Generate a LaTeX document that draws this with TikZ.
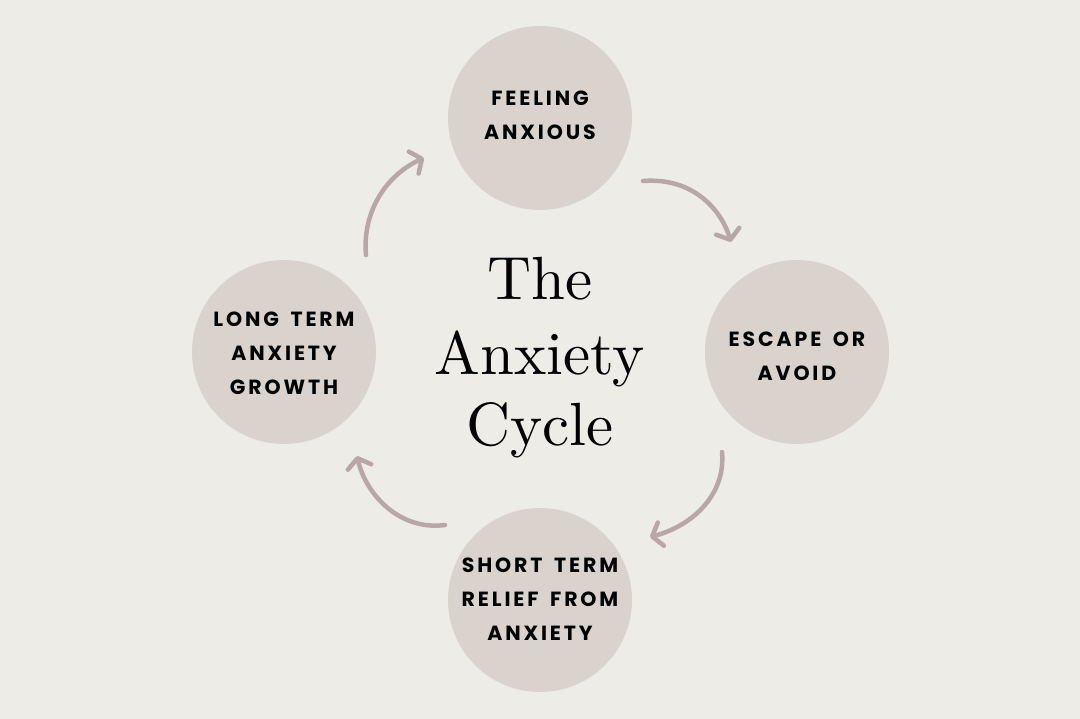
\documentclass[tikz,border=0pt]{standalone}
\usepackage{fontspec}
\newfontfamily\lblfont[LetterSpace=14,WordSpace=1.6]{Poppins}
\newfontfamily\ttlfont{lmroman10-regular.otf}
\usetikzlibrary{arrows.meta}
\definecolor{bg}{HTML}{EEECE7}
\definecolor{circ}{HTML}{DAD2CD}
\definecolor{arr}{HTML}{B8A6A8}
\tikzset{
  stage/.style={circle, fill=circ, minimum size=184pt, inner sep=0pt},
  lbl/.style={inner sep=0pt, align=center,
    font=\lblfont\bfseries\fontsize{20.5}{34}\selectfont, text=black},
  ttl/.style={anchor=base, inner sep=0pt, font=\ttlfont\fontsize{61}{73}\selectfont, text=black},
  flow/.style={draw=arr, line width=4.5pt, line cap=round,
    -{Straight Barb[length=9pt,width=24pt,line width=4.5pt,round]}},
}
\begin{document}
\begin{tikzpicture}[x=1pt,y=-1pt]
\fill[bg] (0,0) rectangle (1080,719);
\useasboundingbox (0,0) rectangle (1080,719);
\node[stage] (top) at (540,118) {};
\node[stage] (right) at (797,352) {};
\node[stage] (bottom) at (540,600) {};
\node[stage] (left) at (284,352) {};
\node[lbl] (topl) at ([yshift=3pt]top.center) {FEELING\\ANXIOUS};
\node[lbl] (rightl) at ([yshift=-4pt]right.center) {ESCAPE OR\\AVOID};
\node[lbl] (bottoml) at ([yshift=1pt]bottom.center) {SHORT TERM\\RELIEF FROM\\ANXIETY};
\node[lbl] (leftl) at ([yshift=-1pt]left.center) {LONG TERM\\ANXIETY\\GROWTH};
\node[ttl] (t1) at (540,300) {The};
\node[ttl] (t2) at (540,375) {Anxiety};
\node[ttl] (t3) at (540,446) {Cycle};
\coordinate (a1s) at (643,181);
\coordinate (a1e) at (731,242);
\coordinate (a2s) at (722,452);
\coordinate (a2e) at (650,537);
\coordinate (a3s) at (445,525);
\coordinate (a3e) at (357,456);
\coordinate (a4s) at (366,255);
\coordinate (a4e) at (424,158);
\draw[flow] (a1s) .. controls (695,177) and (722,212) .. (a1e);
\draw[flow] (a2s) .. controls (726,495) and (692,526) .. (a2e);
\draw[flow] (a3s) .. controls (400,531) and (366,495) .. (a3e);
\draw[flow] (a4s) .. controls (362,210) and (388,174) .. (a4e);
\end{tikzpicture}
\end{document}
